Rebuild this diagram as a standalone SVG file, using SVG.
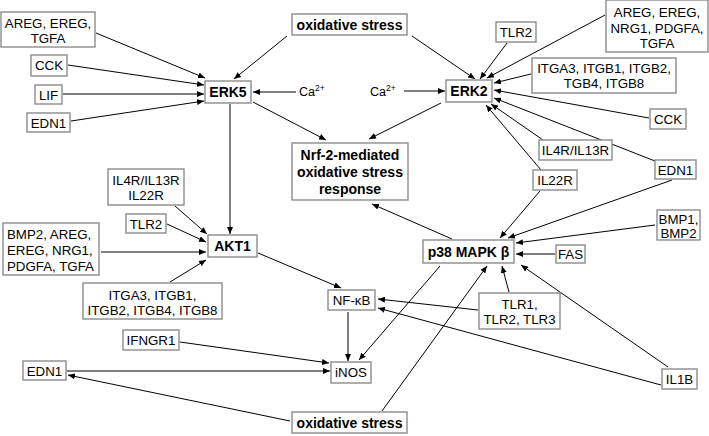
<svg xmlns="http://www.w3.org/2000/svg" width="709" height="436" viewBox="0 0 709 436">
<style>
.b{fill:#fff;stroke:#8c8c8c;stroke-width:1.4}
.t{font-family:"Liberation Sans",Arial,sans-serif;font-size:13.3px;fill:#000;text-anchor:middle}
.s{text-anchor:start}
.bt{font-family:"Liberation Sans",Arial,sans-serif;font-size:14px;font-weight:bold;fill:#000;text-anchor:middle}
.c line{stroke:#000;stroke-width:1;marker-end:url(#a)}
</style>
<defs>
<marker id="a" markerUnits="userSpaceOnUse" markerWidth="8" markerHeight="6" refX="7" refY="3" orient="auto">
<path d="M0,0 L7,3 L0,6 z" fill="#000"/>
</marker>
</defs>
<rect width="709" height="436" fill="#fff"/>
<g class="c" id="connectors">
<line x1="96" y1="33" x2="205" y2="78"/>
<line x1="68" y1="65" x2="204" y2="85"/>
<line x1="63" y1="94" x2="204" y2="94"/>
<line x1="71" y1="121" x2="204" y2="101"/>
<line x1="287" y1="36" x2="234" y2="79"/>
<line x1="296" y1="92" x2="253" y2="92"/>
<line x1="253" y1="102" x2="326" y2="140"/>
<line x1="230" y1="104" x2="230" y2="234"/>
<line x1="412" y1="36" x2="475" y2="79"/>
<line x1="507" y1="43" x2="480" y2="79"/>
<line x1="605" y1="15" x2="487" y2="78"/>
<line x1="531" y1="74" x2="494" y2="83"/>
<line x1="649" y1="118" x2="494" y2="90"/>
<line x1="655" y1="161" x2="494" y2="98"/>
<line x1="543" y1="140" x2="491" y2="104"/>
<line x1="541" y1="170" x2="486" y2="105"/>
<line x1="404" y1="91" x2="445" y2="91"/>
<line x1="441" y1="103" x2="369" y2="139"/>
<line x1="452" y1="239" x2="372" y2="204"/>
<line x1="540" y1="191" x2="500" y2="238"/>
<line x1="672" y1="180" x2="508" y2="238"/>
<line x1="655" y1="225" x2="516" y2="243"/>
<line x1="555" y1="254" x2="516" y2="254"/>
<line x1="175" y1="206" x2="207" y2="234"/>
<line x1="167" y1="224" x2="206" y2="242"/>
<line x1="101" y1="252" x2="206" y2="252"/>
<line x1="170" y1="282" x2="206" y2="260"/>
<line x1="258" y1="253" x2="341" y2="288"/>
<line x1="440" y1="266" x2="359" y2="360"/>
<line x1="382" y1="411" x2="487" y2="266"/>
<line x1="509" y1="292" x2="502" y2="266"/>
<line x1="668" y1="367" x2="521" y2="265"/>
<line x1="478" y1="310" x2="378" y2="299"/>
<line x1="661" y1="385" x2="378" y2="308"/>
<line x1="348" y1="312" x2="348" y2="361"/>
<line x1="180" y1="342" x2="329" y2="363"/>
<line x1="67" y1="371" x2="330" y2="371"/>
<line x1="290" y1="421" x2="68" y2="375"/>
</g>
<g id="n-areg-l"><rect class="b" x="1" y="12" width="94" height="35"/><text class="t" x="48" y="28">AREG, EREG,</text><text class="t" x="48" y="43">TGFA</text></g>
<g id="n-cck-l"><rect class="b" x="31" y="55" width="36" height="21"/><text class="t" x="49" y="70">CCK</text></g>
<g id="n-lif"><rect class="b" x="35" y="85" width="27" height="19"/><text class="t" x="48.5" y="100">LIF</text></g>
<g id="n-edn1-l"><rect class="b" x="27" y="113" width="43" height="19"/><text class="t" x="48.5" y="128">EDN1</text></g>
<g id="n-erk5"><rect class="b" x="205" y="81" width="46" height="22"/><text class="bt" x="228" y="97">ERK5</text></g>
<g id="n-ca-l"><text class="t s" x="299" y="96" style="font-size:12.5px">Ca<tspan dy="-5" style="font-size:8.5px">2+</tspan></text></g>
<g id="n-ox-top"><rect class="b" x="292" y="14" width="115" height="21"/><text class="bt" x="349.5" y="30">oxidative stress</text></g>
<g id="n-ca-r"><text class="t s" x="370" y="96" style="font-size:12.5px">Ca<tspan dy="-5" style="font-size:8.5px">2+</tspan></text></g>
<g id="n-erk2"><rect class="b" x="446" y="80" width="46" height="22"/><text class="bt" x="469" y="96">ERK2</text></g>
<g id="n-tlr2-t"><rect class="b" x="496" y="22" width="40" height="20"/><text class="t" x="516" y="37">TLR2</text></g>
<g id="n-areg-r"><rect class="b" x="606" y="0" width="102" height="52"/><text class="t" x="657" y="17">AREG, EREG,</text><text class="t" x="657" y="32.5">NRG1, PDGFA,</text><text class="t" x="657" y="48">TGFA</text></g>
<g id="n-itga-r"><rect class="b" x="532" y="58" width="144" height="35"/><text class="t" x="604" y="72.5">ITGA3, ITGB1, ITGB2,</text><text class="t" x="604" y="88">TGB4, ITGB8</text></g>
<g id="n-cck-r"><rect class="b" x="650" y="109" width="36" height="20"/><text class="t" x="668" y="124">CCK</text></g>
<g id="n-il4r-r"><rect class="b" x="539" y="140" width="73" height="20"/><text class="t" x="575.5" y="155">IL4R/IL13R</text></g>
<g id="n-edn1-r"><rect class="b" x="655" y="160" width="41" height="19"/><text class="t" x="675.5" y="175">EDN1</text></g>
<g id="n-il22r"><rect class="b" x="533" y="170" width="44" height="20"/><text class="t" x="555" y="185">IL22R</text></g>
<g id="n-nrf2"><rect class="b" x="292" y="143" width="116" height="57"/><text class="bt" x="350" y="160">Nrf-2-mediated</text><text class="bt" x="350" y="177">oxidative stress</text><text class="bt" x="350" y="194">response</text></g>
<g id="n-bmp1"><rect class="b" x="657" y="210" width="43" height="30"/><text class="t" x="678.5" y="224">BMP1,</text><text class="t" x="678.5" y="238">BMP2</text></g>
<g id="n-fas"><rect class="b" x="556" y="245" width="29" height="18"/><text class="t" x="570.5" y="259">FAS</text></g>
<g id="n-p38"><rect class="b" x="423" y="240" width="91" height="23"/><text class="bt" x="468.5" y="257">p38 MAPK β</text></g>
<g id="n-il4r-l"><rect class="b" x="108" y="169" width="76" height="36"/><text class="t" x="146" y="185">IL4R/IL13R</text><text class="t" x="146" y="200">IL22R</text></g>
<g id="n-tlr2-l"><rect class="b" x="126" y="214" width="40" height="19"/><text class="t" x="146" y="229">TLR2</text></g>
<g id="n-bmp2"><rect class="b" x="3" y="223" width="96" height="52"/><text class="t s" x="7" y="239">BMP2, AREG,</text><text class="t s" x="7" y="255">EREG, NRG1,</text><text class="t s" x="7" y="271">PDGFA, TGFA</text></g>
<g id="n-akt1"><rect class="b" x="208" y="235" width="49" height="22"/><text class="bt" x="232.5" y="251">AKT1</text></g>
<g id="n-itga-l"><rect class="b" x="83" y="283" width="139" height="36"/><text class="t" x="152.5" y="300">ITGA3, ITGB1,</text><text class="t" x="152.5" y="315">ITGB2, ITGB4, ITGB8</text></g>
<g id="n-nfkb"><rect class="b" x="328" y="290" width="47" height="20"/><text class="t" x="351.5" y="305">NF-κB</text></g>
<g id="n-tlr1"><rect class="b" x="479" y="293" width="81" height="36"/><text class="t" x="519.5" y="309">TLR1,</text><text class="t" x="519.5" y="324">TLR2, TLR3</text></g>
<g id="n-ifngr1"><rect class="b" x="123" y="330" width="56" height="20"/><text class="t" x="151" y="345">IFNGR1</text></g>
<g id="n-edn1-b"><rect class="b" x="23" y="361" width="43" height="19"/><text class="t" x="44.5" y="376">EDN1</text></g>
<g id="n-inos"><rect class="b" x="331" y="362" width="40" height="21"/><text class="t" x="351" y="377">iNOS</text></g>
<g id="n-il1b"><rect class="b" x="662" y="369" width="35" height="20"/><text class="t" x="679.5" y="384">IL1B</text></g>
<g id="n-ox-bot"><rect class="b" x="292" y="412" width="115" height="21"/><text class="bt" x="349.5" y="428">oxidative stress</text></g>
</svg>
